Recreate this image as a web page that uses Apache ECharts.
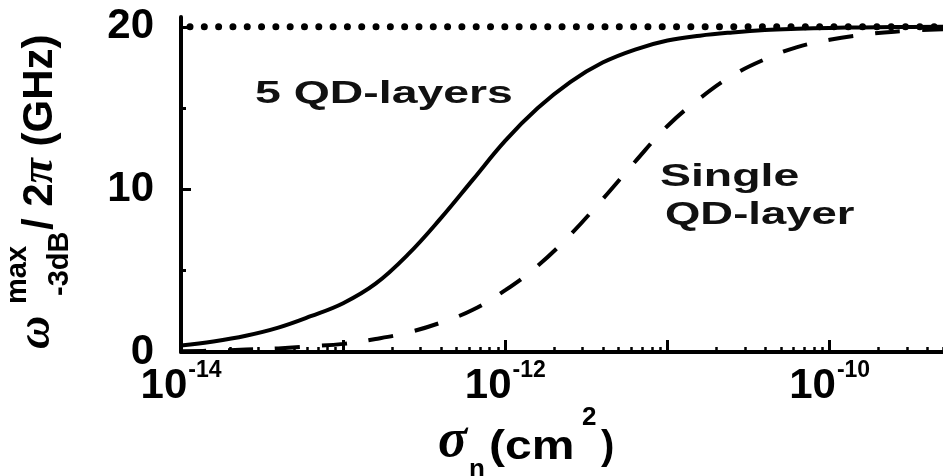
<!DOCTYPE html>
<html>
<head>
<meta charset="utf-8">
<script src="https://cdn.jsdelivr.net/npm/echarts@6/dist/echarts.min.js"></script>
<style>
  html, body { margin: 0; padding: 0; background: #fff; }
  #chart { width: 943px; height: 476px; }
</style>
</head>
<body>
<div id="chart"></div>
<script>
// log10 of the capture cross section sigma_n (cm^2)
const logSigma = [-14, -13.8, -13.6, -13.4, -13.2, -13.0, -12.8, -12.6, -12.4, -12.2, -12.0, -11.8,
                  -11.6, -11.4, -11.2, -11.0, -10.8, -10.6, -10.4, -10.2, -10.0, -9.8, -9.6, -9.3];
// maximum -3 dB modulation bandwidth (GHz), five QD layers
const fiveLayers = [0.4, 0.65, 1.0, 1.5, 2.2, 3.0, 4.2, 6.0, 8.2, 10.6, 13.0, 15.0,
                    16.6, 17.8, 18.6, 19.15, 19.45, 19.65, 19.8, 19.88, 19.93, 19.96, 19.98, 20.0];
// maximum -3 dB modulation bandwidth (GHz), single QD layer
const singleLayer = [0.05, 0.08, 0.15, 0.22, 0.35, 0.5, 0.8, 1.2, 1.8, 2.6, 3.8, 5.3,
                     7.2, 9.4, 11.7, 13.9, 15.6, 17.0, 18.0, 18.75, 19.2, 19.5, 19.7, 19.85];
// upper bandwidth limit
const limitSigma = [1e-14, 5e-10];
const limitValue = [20, 20];

// axis ranges and ticks
const xMin = 1e-14, xMax = 5e-10;
const yMin = 0, yMax = 20.6;
const xMajorTicks = [1e-14, 1e-13, 1e-12, 1e-11, 1e-10];
const xLabelTicks = [1e-14, 1e-12, 1e-10];
const yLabelTicks = [0, 10, 20];
const yMinorTicks = [5, 15];
const xMinorTicks = [];
for (let e = -14; e <= -10; e++) {
  for (let m = 2; m <= 9; m++) {
    const v = m * Math.pow(10, e);
    if (v <= xMax) xMinorTicks.push(v);
  }
}

const SANS = '"Liberation Sans", Arial, sans-serif';
const SERIF = '"Liberation Serif", "Times New Roman", serif';
const INK = '#000';

const pairs = (xs, ys) => xs.map((x, i) => [x, ys[i]]);
const fromLog = (es, ys) => es.map((e, i) => [Math.pow(10, e), ys[i]]);

const gridBox = { left: 181, right: 0, top: 17, bottom: 124 };

const chart = echarts.init(document.getElementById('chart'), null, { renderer: 'canvas' });

chart.setOption({
  animation: false,
  backgroundColor: '#fff',
  grid: [
    Object.assign({ containLabel: false }, gridBox),
    Object.assign({ containLabel: false }, gridBox)
  ],
  xAxis: [
    {
      type: 'log', logBase: 10, gridIndex: 0, min: xMin, max: xMax,
      axisLine: { show: true, onZero: false, lineStyle: { color: INK, width: 4 } },
      axisTick: { show: true, inside: true, length: 12, lineStyle: { color: INK, width: 3 },
                  customValues: xMajorTicks },
      axisLabel: {
        show: true, margin: 7, customValues: xLabelTicks,
        formatter: v => '{b|10}{s|' + Math.round(Math.log10(v)) + '}',
        rich: {
          b: { fontSize: 42, fontWeight: 'bold', fontFamily: SANS, color: INK, lineHeight: 48, verticalAlign: 'bottom' },
          s: { fontSize: 23, fontWeight: 'bold', fontFamily: SANS, color: INK, verticalAlign: 'top', padding: [0, 0, 0, 1] }
        }
      },
      splitLine: { show: false }, minorTick: { show: false }
    },
    {
      type: 'log', logBase: 10, gridIndex: 1, min: xMin, max: xMax,
      axisLine: { show: false },
      axisTick: { show: true, inside: true, length: 5, lineStyle: { color: INK, width: 2.5 },
                  customValues: xMinorTicks },
      axisLabel: { show: false },
      splitLine: { show: false }
    }
  ],
  yAxis: [
    {
      type: 'value', gridIndex: 0, min: yMin, max: yMax,
      axisLine: { show: true, onZero: false, lineStyle: { color: INK, width: 4 } },
      axisTick: { show: true, inside: true, length: 10, lineStyle: { color: INK, width: 3 },
                  customValues: yLabelTicks },
      axisLabel: { show: true, margin: 27, customValues: yLabelTicks, fontSize: 42, fontWeight: 'bold',
                   fontFamily: SANS, color: INK },
      splitLine: { show: false }
    },
    {
      type: 'value', gridIndex: 1, min: yMin, max: yMax,
      axisLine: { show: false },
      axisTick: { show: true, inside: true, length: 5, lineStyle: { color: INK, width: 3 },
                  customValues: yMinorTicks },
      axisLabel: { show: false },
      splitLine: { show: false }
    }
  ],
  series: [
    {
      name: '5 QD-layers', type: 'line', xAxisIndex: 0, yAxisIndex: 0,
      data: fromLog(logSigma, fiveLayers), showSymbol: false, smooth: 0.4,
      lineStyle: { color: INK, width: 4 }
    },
    {
      name: 'Single QD-layer', type: 'line', xAxisIndex: 0, yAxisIndex: 0,
      data: fromLog(logSigma, singleLayer), showSymbol: false, smooth: 0.4,
      lineStyle: { color: INK, width: 4, type: [25, 22] }
    },
    {
      name: 'limit', type: 'line', xAxisIndex: 0, yAxisIndex: 0,
      data: pairs(limitSigma, limitValue), showSymbol: false,
      lineStyle: { color: INK, width: 7, type: [0.01, 14.3], cap: 'round', dashOffset: -9 }
    }
  ],
  graphic: [
    // curve annotations
    { type: 'text', x: 255, y: 94, scaleX: 1.45,
      style: { text: '5 QD-layers', fontSize: 32, fontWeight: 'bold', fontFamily: SANS, fill: '#111',
               align: 'left', verticalAlign: 'middle' } },
    { type: 'text', x: 660, y: 177, scaleX: 1.45,
      style: { text: 'Single', fontSize: 32, fontWeight: 'bold', fontFamily: SANS, fill: '#111',
               align: 'left', verticalAlign: 'middle' } },
    { type: 'text', x: 665, y: 215, scaleX: 1.42,
      style: { text: 'QD-layer', fontSize: 32, fontWeight: 'bold', fontFamily: SANS, fill: '#111',
               align: 'left', verticalAlign: 'middle' } },
    // x axis title: sigma_n (cm^2)
    { type: 'group', x: 0, y: 0, children: [
      { type: 'text', x: 438, y: 442,
        style: { text: 'σ', fontSize: 54, fontWeight: 'bold', fontStyle: 'italic', fontFamily: SERIF,
                 fill: INK, align: 'left', verticalAlign: 'middle' } },
      { type: 'text', x: 469, y: 470,
        style: { text: 'n', fontSize: 26, fontWeight: 'bold', fontFamily: SANS,
                 fill: INK, align: 'left', verticalAlign: 'middle' } },
      { type: 'text', x: 489, y: 448, scaleX: 1.2,
        style: { text: '(cm', fontSize: 40, fontWeight: 'bold', fontFamily: SANS,
                 fill: INK, align: 'left', verticalAlign: 'middle' } },
      { type: 'text', x: 582, y: 418,
        style: { text: '2', fontSize: 26, fontWeight: 'bold', fontFamily: SANS,
                 fill: INK, align: 'left', verticalAlign: 'middle' } },
      { type: 'text', x: 601, y: 448,
        style: { text: ')', fontSize: 40, fontWeight: 'bold', fontFamily: SANS,
                 fill: INK, align: 'left', verticalAlign: 'middle' } }
    ] },
    // y axis title: omega^max_-3dB / 2 pi (GHz), read bottom to top
    { type: 'group', x: 0, y: 352, rotation: Math.PI / 2, children: [
      { type: 'text', x: 3, y: 37,
        style: { text: 'ω', fontSize: 46, fontWeight: 'bold', fontStyle: 'italic', fontFamily: SERIF,
                 fill: INK, align: 'left', verticalAlign: 'middle' } },
      { type: 'text', x: 48, y: 18,
        style: { text: 'max', fontSize: 29, fontWeight: 'bold', fontFamily: SANS,
                 fill: INK, align: 'left', verticalAlign: 'middle' } },
      { type: 'text', x: 56, y: 60,
        style: { text: '-3dB', fontSize: 29, fontWeight: 'bold', fontFamily: SANS,
                 fill: INK, align: 'left', verticalAlign: 'middle' } },
      { type: 'text', x: 122, y: 40,
        style: { text: '{a|/ 2}{p|π}{a| (GHz)}', fill: INK, align: 'left', verticalAlign: 'middle',
                 rich: {
                   a: { fontSize: 42, fontWeight: 'bold', fontFamily: SANS, fill: INK },
                   p: { fontSize: 46, fontWeight: 'bold', fontStyle: 'italic', fontFamily: SERIF, fill: INK }
                 } } }
    ] }
  ]
});
</script>
</body>
</html>
